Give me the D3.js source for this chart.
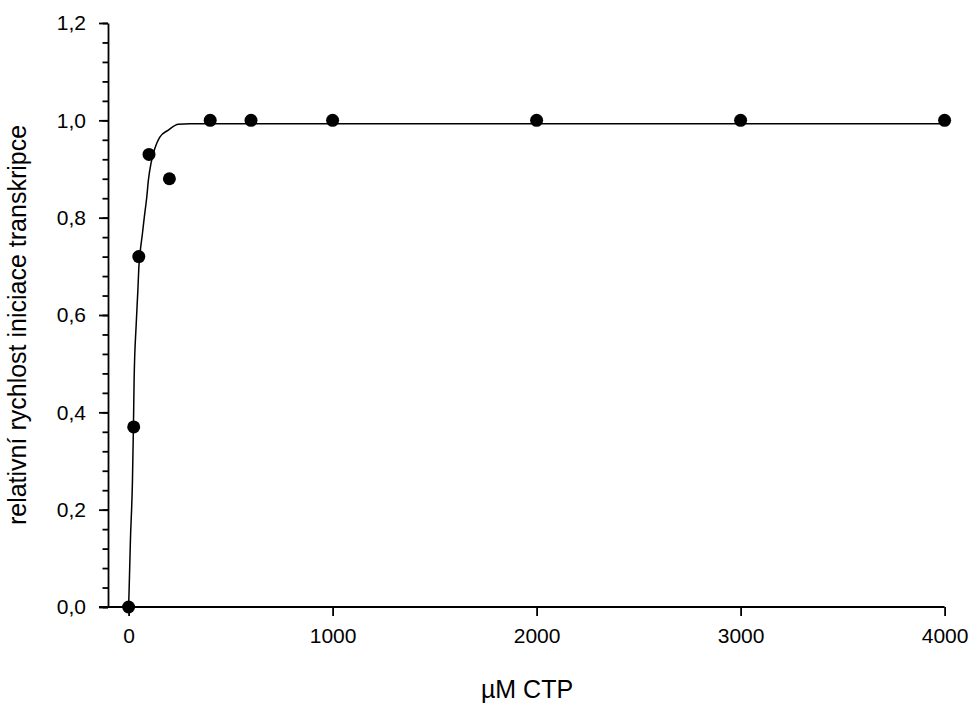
<!DOCTYPE html>
<html>
<head>
<meta charset="utf-8">
<script src="https://cdn.jsdelivr.net/npm/d3@7"></script>
<style>
  body { margin: 0; background: #fff; }
  text { font-family: "Liberation Sans", Arial, sans-serif; fill: #000; }
</style>
</head>
<body>
<script>
// measured points: CTP concentration (µM) and relative initiation rate
const ctp = [0, 25, 50, 100, 200, 400, 600, 1000, 2000, 3000, 4000]
const rate = [0, 0.37, 0.72, 0.93, 0.88, 1.0, 1.0, 1.0, 1.0, 1.0, 1.0]

// fitted curve
const fitX = [0, 2.5, 9, 19, 24, 27, 37, 45, 51, 56, 68, 77, 89, 97, 110, 122, 138, 154, 195, 244, 300, 1000, 2000, 3000, 4000]
const fitY = [0, 0.035, 0.138, 0.261, 0.378, 0.466, 0.579, 0.647, 0.703, 0.727, 0.768, 0.801, 0.842, 0.877, 0.912, 0.933, 0.953, 0.966, 0.980, 0.992, 0.993, 0.993, 0.993, 0.993, 0.993]

// axis ticks
const xTicks = [0, 1000, 2000, 3000, 4000]
const xTickLabels = ['0', '1000', '2000', '3000', '4000']
const yTicks = [0, 0.2, 0.4, 0.6, 0.8, 1.0, 1.2]
const yTickLabels = ['0,0', '0,2', '0,4', '0,6', '0,8', '1,0', '1,2']
const yMinorTicks = d3.range(0, 31).map(i => i * 0.04)

const svgWidth = 971
const svgHeight = 706

const svg = d3.select('body')
    .append('svg')
    .attr('width', svgWidth)
    .attr('height', svgHeight)

// scales
const x = d3.scaleLinear()
    .domain([0, 4000])
    .range([128.6, 944.6])

const y = d3.scaleLinear()
    .domain([0, 1.2])
    .range([607, 23])

const axisLeftX = 108

// y axis, minor ticks first
svg.append('g')
    .attr('transform', `translate(${axisLeftX},0)`)
    .call(d3.axisLeft(y).tickValues(yMinorTicks).tickSize(5.5).tickFormat(''))
    .call(g => g.select('.domain').remove())

const yAxis = svg.append('g')
    .attr('transform', `translate(${axisLeftX},0)`)
    .call(d3.axisLeft(y)
        .tickValues(yTicks)
        .tickSize(9)
        .tickSizeOuter(0)
        .tickPadding(13)
        .tickFormat((d, i) => yTickLabels[i]))

yAxis.selectAll('text').attr('font-size', 21)

// x axis
const xAxis = svg.append('g')
    .attr('transform', `translate(0,${y(0)})`)
    .call(d3.axisBottom(x)
        .tickValues(xTicks)
        .tickSize(9)
        .tickSizeOuter(0)
        .tickPadding(12)
        .tickFormat((d, i) => xTickLabels[i]))

xAxis.selectAll('text').attr('font-size', 21)
xAxis.select('.domain').attr('d', `M${axisLeftX - 9},0H${x(4000)}`)

svg.selectAll('.domain, .tick line')
    .attr('stroke', '#000')
    .attr('stroke-width', 1.8)

// fitted curve
const line = d3.line()
    .x(d => x(d[0]))
    .y(d => y(d[1]))
    .curve(d3.curveMonotoneX)

svg.append('path')
    .datum(d3.zip(fitX, fitY))
    .attr('d', line)
    .attr('fill', 'none')
    .attr('stroke', '#000')
    .attr('stroke-width', 1.5)

// data points
svg.append('g')
    .selectAll('circle')
    .data(d3.zip(ctp, rate))
    .enter()
    .append('circle')
    .attr('cx', d => x(d[0]))
    .attr('cy', d => y(d[1]))
    .attr('r', 6.5)
    .attr('fill', '#000')

// axis titles
svg.append('text')
    .attr('x', 527)
    .attr('y', 698)
    .attr('text-anchor', 'middle')
    .attr('font-size', 25)
    .text('µM CTP')

svg.append('text')
    .attr('transform', 'translate(26,325) rotate(-90)')
    .attr('text-anchor', 'middle')
    .attr('font-size', 25)
    .text('relativní rychlost iniciace transkripce')
</script>
</body>
</html>
